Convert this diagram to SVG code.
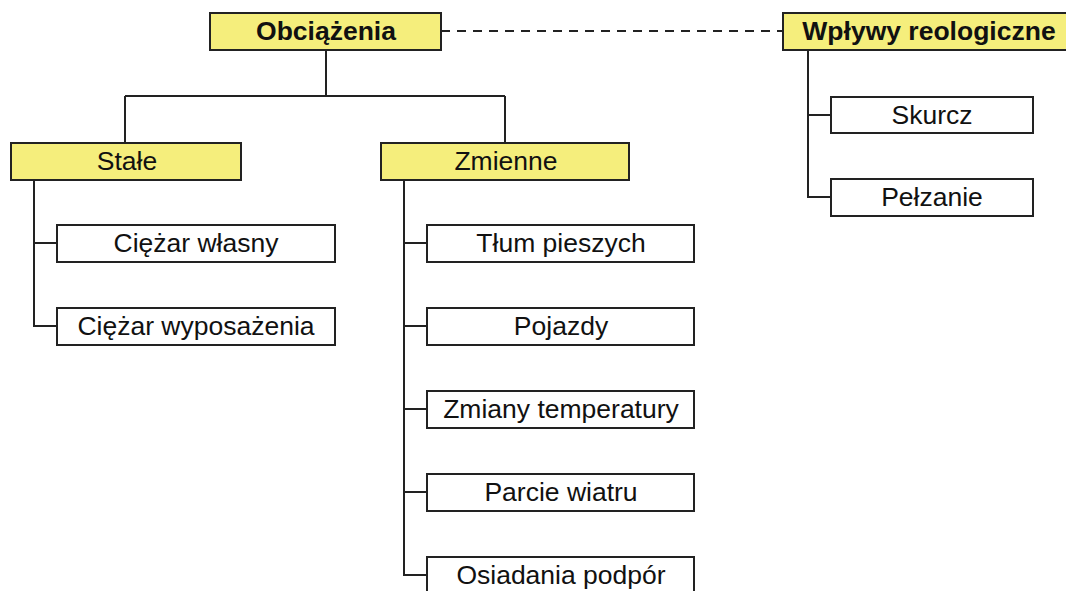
<svg xmlns="http://www.w3.org/2000/svg" width="1066" height="591" viewBox="0 0 1066 591">
<style>
.y{fill:#F5EE7C;stroke:#222;stroke-width:2}
.w{fill:#fff;stroke:#222;stroke-width:2}
.t{font-family:"Liberation Sans",Arial,sans-serif;font-size:26.5px;fill:#111;text-anchor:middle}
.b{font-weight:bold}
.c line,.c path{stroke:#222;stroke-width:2;fill:none}
</style>
<rect width="1066" height="591" fill="#fff"/>
<g class="c" id="connectors">
<path d="M326,50V96M125,96H505M125,96V143M505,96V143"/>
<line x1="441" y1="31" x2="783" y2="31" stroke-dasharray="9,7"/>
<path d="M808,50V197H831M808,115H831"/>
<path d="M34,180V326H57M34,243H57"/>
<path d="M404,180V575H427M404,243H427M404,326H427M404,409H427M404,492H427"/>
</g>
<g id="obciazenia"><rect class="y" x="210" y="13" width="231" height="37"/><text class="t b" x="326" y="40">Obciążenia</text></g>
<g id="wplywy"><rect class="y" x="783" y="13" width="293" height="37"/><text class="t b" x="929" y="40">Wpływy reologiczne</text></g>
<g id="stale"><rect class="y" x="11" y="143" width="230" height="37"/><text class="t" x="127" y="170">Stałe</text></g>
<g id="zmienne"><rect class="y" x="381" y="143" width="248" height="37"/><text class="t" x="506" y="170">Zmienne</text></g>
<g id="skurcz"><rect class="w" x="831" y="97" width="202" height="36"/><text class="t" x="932" y="124">Skurcz</text></g>
<g id="pelzanie"><rect class="w" x="831" y="179" width="202" height="37"/><text class="t" x="932" y="206">Pełzanie</text></g>
<g id="ciezar-wlasny"><rect class="w" x="57" y="225" width="278" height="37"/><text class="t" x="196" y="252">Ciężar własny</text></g>
<g id="ciezar-wyposazenia"><rect class="w" x="57" y="308" width="278" height="37"/><text class="t" x="196" y="335">Ciężar wyposażenia</text></g>
<g id="tlum"><rect class="w" x="427" y="225" width="267" height="37"/><text class="t" x="561" y="252">Tłum pieszych</text></g>
<g id="pojazdy"><rect class="w" x="427" y="308" width="267" height="37"/><text class="t" x="561" y="335">Pojazdy</text></g>
<g id="temperatura"><rect class="w" x="427" y="391" width="267" height="37"/><text class="t" x="561" y="418">Zmiany temperatury</text></g>
<g id="wiatr"><rect class="w" x="427" y="474" width="267" height="37"/><text class="t" x="561" y="501">Parcie wiatru</text></g>
<g id="osiadania"><rect class="w" x="427" y="557" width="267" height="37"/><text class="t" x="561" y="584">Osiadania podpór</text></g>
</svg>
